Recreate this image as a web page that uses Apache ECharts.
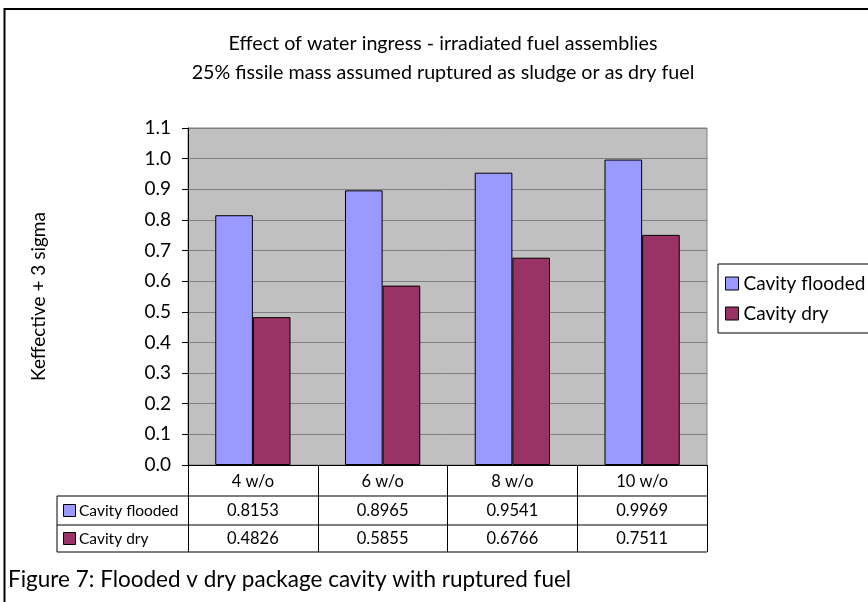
<!DOCTYPE html>
<html><head><meta charset="utf-8">
<script src="https://cdn.jsdelivr.net/npm/echarts@6/dist/echarts.min.js"></script>
<style>html,body{margin:0;padding:0;background:#fff}#c{width:868px;height:602px}</style>
</head><body><div id="c"></div>
<script>
const categories = ['4 w/o', '6 w/o', '8 w/o', '10 w/o'];
const seriesNames = ['Cavity flooded', 'Cavity dry'];
const cavityFlooded = [0.8153, 0.8965, 0.9541, 0.9969];
const cavityDry = [0.4826, 0.5855, 0.6766, 0.7511];
const yTicks = [0.0, 0.1, 0.2, 0.3, 0.4, 0.5, 0.6, 0.7, 0.8, 0.9, 1.0, 1.1];

const FONT = 'Lato';
const colors = ['#9999FF', '#993366'];
const G = {left: 188, top: 128, width: 519, height: 337};
const rowH = [31, 29, 27];
const tableLeft = 57;
const gb = G.top + G.height;
const r1 = gb + rowH[0], r2 = r1 + rowH[1], r3 = r2 + rowH[2];
const gr = G.left + G.width;
const TF = 16.5;

const chart = echarts.init(document.getElementById('c'), null, {renderer: 'canvas'});
const option = {
  animation: false,
  backgroundColor: '#fff',
  textStyle: {fontFamily: FONT},
  title: {
    text: 'Effect of water ingress - irradiated fuel assemblies\n25% fissile mass assumed ruptured as sludge or as dry fuel',
    left: 438, top: 24, textAlign: 'center',
    textStyle: {fontFamily: FONT, fontSize: 19.7, fontWeight: 'normal', color: '#000', lineHeight: 29}
  },
  legend: {
    data: seriesNames, orient: 'vertical', left: 718, top: 264,
    itemWidth: 13, itemHeight: 13, itemGap: 11,
    padding: [10, 30, 10, 7],
    borderColor: '#000', borderWidth: 1,
    textStyle: {fontFamily: FONT, fontSize: 19, color: '#000'},
    icon: 'rect',
    itemStyle: {borderColor: '#000', borderWidth: 1}
  },
  grid: {left: G.left, top: G.top, width: G.width, height: G.height, show: true,
    backgroundColor: '#C0C0C0', borderColor: '#808080', borderWidth: 1},
  xAxis: [
    {type: 'category', data: categories, position: 'bottom',
      axisLine: {lineStyle: {color: '#000', width: 1}},
      axisTick: {show: true, length: rowH[0] + rowH[1] + rowH[2], inside: false, lineStyle: {color: '#000'}},
      axisLabel: {margin: 8, fontFamily: FONT, fontSize: TF, color: '#000'}},
    {type: 'category', data: categories, position: 'bottom', offset: rowH[0],
      axisLine: {show: false}, axisTick: {show: false},
      axisLabel: {margin: 6, fontFamily: FONT, fontSize: TF, color: '#000',
        formatter: (v, i) => cavityFlooded[i].toFixed(4)}},
    {type: 'category', data: categories, position: 'bottom', offset: rowH[0] + rowH[1],
      axisLine: {show: false}, axisTick: {show: false},
      axisLabel: {margin: 5, fontFamily: FONT, fontSize: TF, color: '#000',
        formatter: (v, i) => cavityDry[i].toFixed(4)}}
  ],
  yAxis: {
    type: 'value', min: 0, max: 1.1, interval: 0.1,
    name: 'Keffective + 3 sigma', nameLocation: 'middle', nameGap: 140, nameRotate: 90,
    nameTextStyle: {fontFamily: FONT, fontSize: 19, color: '#000'},
    axisLine: {show: true, lineStyle: {color: '#000'}},
    axisTick: {show: true, length: 6, lineStyle: {color: '#000'}},
    axisLabel: {margin: 17, fontFamily: FONT, fontSize: 19, color: '#000',
      formatter: v => yTicks[Math.round(v * 10)].toFixed(1)},
    splitLine: {show: true, lineStyle: {color: '#808080', width: 1}}
  },
  series: [
    {name: seriesNames[0], type: 'bar', data: cavityFlooded, barGap: '0%', barCategoryGap: '42%',
      itemStyle: {color: colors[0], borderColor: '#000', borderWidth: 1}},
    {name: seriesNames[1], type: 'bar', data: cavityDry, barGap: '0%', barCategoryGap: '42%',
      itemStyle: {color: colors[1], borderColor: '#000', borderWidth: 1}}
  ],
  graphic: [
    {type: 'rect', shape: {x: 4.5, y: 9, width: 900, height: 700}, style: {fill: null, stroke: '#000', lineWidth: 2}, silent: true},
    {type: 'line', shape: {x1: tableLeft, y1: r1, x2: gr, y2: r1}, style: {stroke: '#000', lineWidth: 1}},
    {type: 'line', shape: {x1: tableLeft, y1: r2, x2: gr, y2: r2}, style: {stroke: '#000', lineWidth: 1}},
    {type: 'line', shape: {x1: tableLeft, y1: r3, x2: gr, y2: r3}, style: {stroke: '#000', lineWidth: 1}},
    {type: 'line', shape: {x1: tableLeft, y1: r1, x2: tableLeft, y2: r3}, style: {stroke: '#000', lineWidth: 1}},
    {type: 'rect', shape: {x: tableLeft + 6.5, y: r1 + 8.5, width: 12, height: 12}, style: {fill: colors[0], stroke: '#000', lineWidth: 1}},
    {type: 'rect', shape: {x: tableLeft + 6.5, y: r2 + 7.5, width: 12, height: 12}, style: {fill: colors[1], stroke: '#000', lineWidth: 1}},
    {type: 'text', x: tableLeft + 22, y: r1 + rowH[1] / 2, style: {text: seriesNames[0], font: '15.5px ' + FONT, fill: '#000', verticalAlign: 'middle', textVerticalAlign: 'middle'}},
    {type: 'text', x: tableLeft + 22, y: r2 + rowH[2] / 2, style: {text: seriesNames[1], font: '15.5px ' + FONT, fill: '#000', verticalAlign: 'middle', textVerticalAlign: 'middle'}},
    {type: 'text', x: 8, y: 580, style: {text: 'Figure 7: Flooded v dry package cavity with ruptured fuel', font: '22.5px ' + FONT, fill: '#000', verticalAlign: 'middle', textVerticalAlign: 'middle'}}
  ]
};
chart.setOption(option);
</script></body></html>
